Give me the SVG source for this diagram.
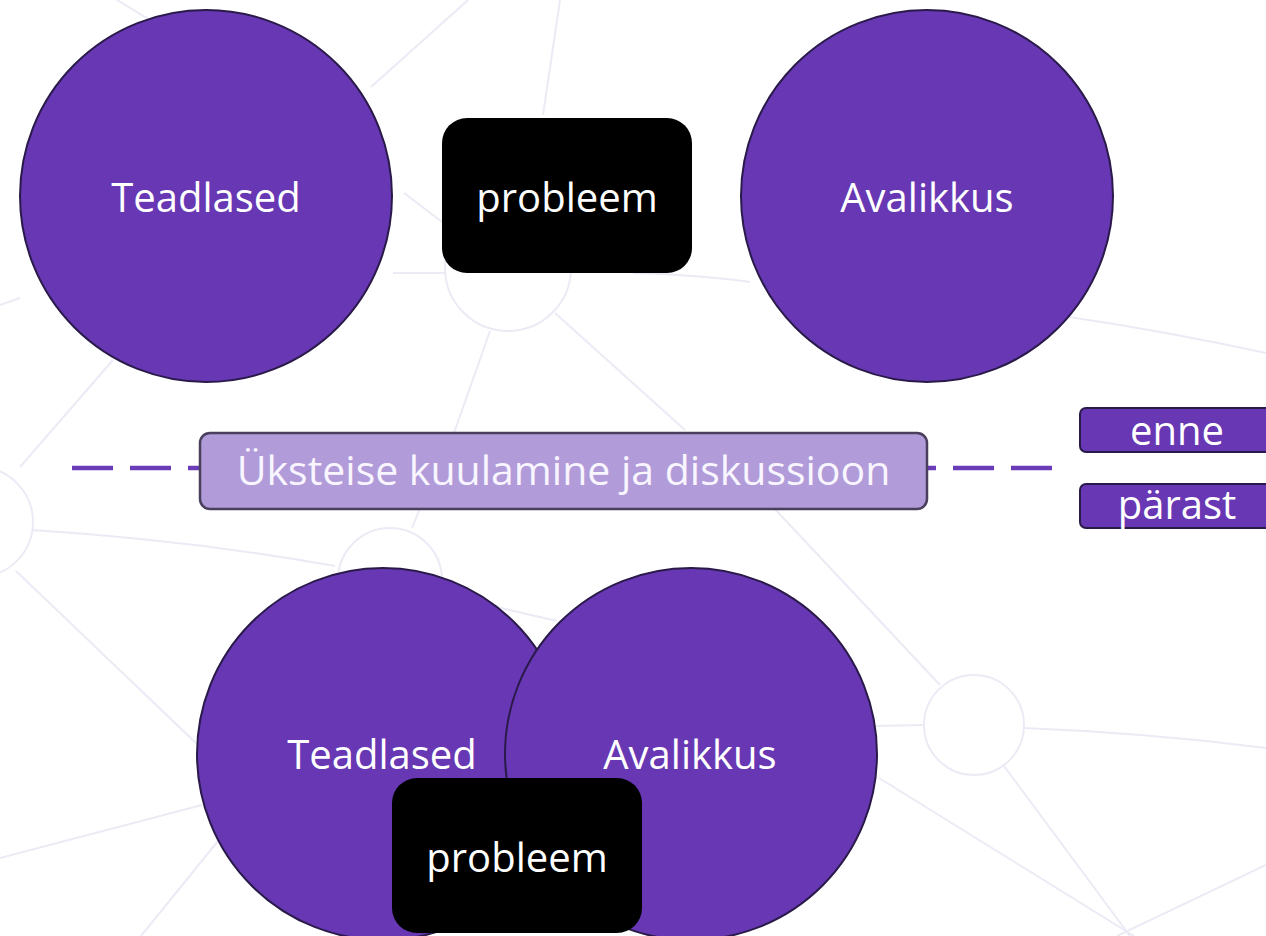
<svg xmlns="http://www.w3.org/2000/svg" width="1266" height="936" viewBox="0 0 1266 936">
<style>
.bg{fill:none;stroke:#ebebf5;stroke-width:2}
.c{fill:#6737b4;stroke:#2a1a4a;stroke-width:2}
.p{fill:#000000}
.t{font-family:"Open Sans","Noto Sans","DejaVu Sans",sans-serif;font-size:40px;fill:#ffffff;text-anchor:middle}
.tag{fill:#6737b4;stroke:#2a1a4a;stroke-width:2}
.dash{stroke:#6a3cb8;stroke-width:4.5;stroke-dasharray:41 17;fill:none}
</style>
<rect width="1266" height="936" fill="#ffffff"/>
<g id="background">
<path class="bg" d="M117,0 L150,20"/>
<path class="bg" d="M468,0 L371,87"/>
<path class="bg" d="M560,0 L543,115"/>
<path class="bg" d="M404,193 L450,228"/>
<circle class="bg" cx="508" cy="268" r="63"/>
<path class="bg" d="M393,273 L445,273"/>
<path class="bg" d="M0,305 L20,298"/>
<path class="bg" d="M490,331 L454,433"/>
<path class="bg" d="M555,313 L685,430"/>
<path class="bg" d="M633,273 Q700,275 750,282"/>
<path class="bg" d="M1069,317 Q1170,332 1266,353"/>
<path class="bg" d="M20,467 L113,360"/>
<circle class="bg" cx="-22" cy="522" r="55"/>
<path class="bg" d="M32,530 Q190,540 335,566"/>
<path class="bg" d="M16,571 L198,745"/>
<path class="bg" d="M0,858 L202,805"/>
<path class="bg" d="M141,936 L218,841"/>
<circle class="bg" cx="390" cy="580" r="52"/>
<path class="bg" d="M412,528 L420,508"/>
<path class="bg" d="M488,605 L557,621"/>
<path class="bg" d="M774,508 L940,685"/>
<circle class="bg" cx="974" cy="725" r="50"/>
<path class="bg" d="M875,726 L924,725"/>
<path class="bg" d="M1024,728 Q1150,733 1266,748"/>
<path class="bg" d="M879,778 L1134,936"/>
<path class="bg" d="M1004,766 L1130,936"/>
<path class="bg" d="M1266,865 L1117,936"/>
</g>
<g id="connectors">
<path class="dash" d="M72,468 L200,468"/>
<path class="dash" d="M1052,468 L927,468"/>
</g>
<g id="teadlased-enne">
<circle class="c" cx="206" cy="196" r="186"/>
<text class="t" x="206" y="212">Teadlased</text>
</g>
<g id="probleem-enne">
<rect class="p" x="442" y="118" width="250" height="155" rx="25"/>
<text class="t" x="567" y="212">probleem</text>
</g>
<g id="avalikkus-enne">
<circle class="c" cx="927" cy="196" r="186"/>
<text class="t" x="927" y="212">Avalikkus</text>
</g>
<g id="diskussioon">
<rect x="200" y="433" width="727" height="76" rx="10" fill="#b19cd9" stroke="#4a3f5c" stroke-width="2.5"/>
<text class="t" x="563.5" y="485" style="font-size:41px;fill:#f8f5ff">Üksteise kuulamine ja diskussioon</text>
</g>
<g id="enne">
<rect class="tag" x="1080" y="408" width="200" height="44" rx="6"/>
<text class="t" x="1177" y="445">enne</text>
</g>
<g id="parast">
<rect class="tag" x="1080" y="484" width="200" height="44" rx="6"/>
<text class="t" x="1177" y="519">pärast</text>
</g>
<g id="teadlased-parast">
<circle class="c" cx="383" cy="754" r="186"/>
<text class="t" x="382" y="769">Teadlased</text>
</g>
<g id="avalikkus-parast">
<circle class="c" cx="691" cy="754" r="186"/>
<text class="t" x="690" y="769">Avalikkus</text>
</g>
<g id="probleem-parast">
<rect class="p" x="392" y="778" width="250" height="155" rx="25"/>
<text class="t" x="517" y="872">probleem</text>
</g>
</svg>
